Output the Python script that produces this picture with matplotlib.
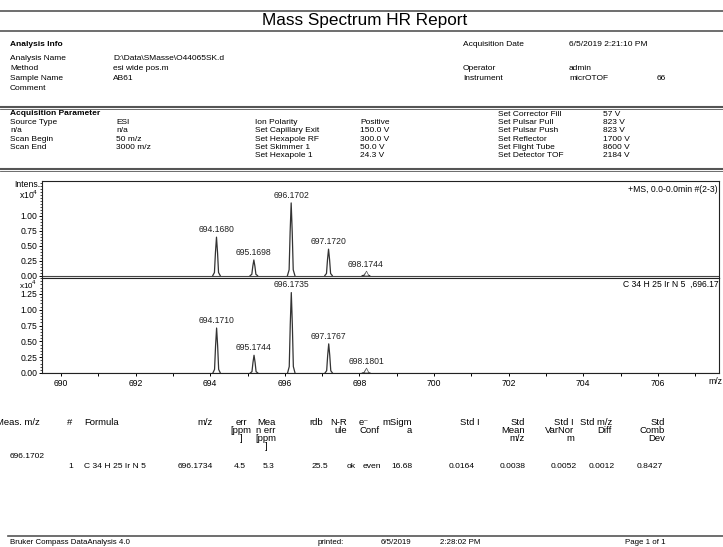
import matplotlib.pyplot as plt
from matplotlib.lines import Line2D

# measured / simulated isotope peaks (intensity in x10^4)
meas_mz = [694.1680, 695.1698, 696.1702, 697.1720, 698.1744]
meas_int = [0.64, 0.26, 1.21, 0.44, 0.04]
calc_mz = [694.1710, 695.1744, 696.1735, 697.1767, 698.1801]
calc_int = [0.71, 0.28, 1.27, 0.46, 0.05]

xticks_major = [690, 692, 694, 696, 698, 700, 702, 704, 706]
yticks_top = [0.00, 0.25, 0.50, 0.75, 1.00]
yticks_bot = [0.00, 0.25, 0.50, 0.75, 1.00, 1.25]

info_left = [("Analysis Name", "D:\\Data\\SMasse\\O44065SK.d"),
             ("Method", "esi wide pos.m"),
             ("Sample Name", "AB61"),
             ("Comment", "")]
info_right = [("Acquisition Date", "6/5/2019 2:21:10 PM"),
              ("", ""),
              ("Operator", "admin"),
              ("Instrument", "micrOTOF")]

acq_col1 = [("Source Type", "ESI"), ("n/a", "n/a"),
            ("Scan Begin", "50 m/z"), ("Scan End", "3000 m/z")]
acq_col2 = [("Ion Polarity", "Positive"), ("Set Capillary Exit", "150.0 V"),
            ("Set Hexapole RF", "300.0 V"), ("Set Skimmer 1", "50.0 V"),
            ("Set Hexapole 1", "24.3 V")]
acq_col3 = [("Set Corrector Fill", "57 V"), ("Set Pulsar Pull", "823 V"),
            ("Set Pulsar Push", "823 V"), ("Set Reflector", "1700 V"),
            ("Set Flight Tube", "8600 V"), ("Set Detector TOF", "2184 V")]

tbl_head = ["#", "Formula", "m/z", "err\n[ppm\n]", "Mea\nn err\n[ppm\n]", "rdb",
            "N-R\nule", "e\u207b\nConf", "mSigm\na", "Std I", "Std\nMean\nm/z",
            "Std I\nVarNor\nm", "Std m/z\nDiff", "Std\nComb\nDev"]
tbl_row = ["1", "C 34 H 25 Ir N 5", "696.1734", "4.5", "5.3", "25.5", "ok", "even",
           "16.68", "0.0164", "0.0038", "0.0052", "0.0012", "0.8427"]

plt.rcParams['font.family'] = ['Liberation Sans Narrow', 'Liberation Sans', 'DejaVu Sans']
fs = 6.0     # header blocks
fsp = 6.2    # spectrum labels

fig = plt.figure(figsize=(7.23, 5.47), dpi=100)
bg = fig.add_axes([0, 0, 1, 1])
bg.set_xlim(0, 723)
bg.set_ylim(547, 0)
bg.axis('off')


def rule(y, lw=1.0, x0=0, x1=723):
    bg.add_line(Line2D([x0, x1], [y, y], color='#555555', lw=lw))


# header
rule(11, 1.2)
bg.text(365, 21, "Mass Spectrum HR Report", fontsize=12.3, ha='center', va='center')
rule(31, 1.2)
bg.text(10, 45, "Analysis Info", fontsize=fs, fontweight='bold', va='center')
for i, (k, v) in enumerate(info_left):
    bg.text(10, 58 + i * 10, k, fontsize=fs, va='center')
    bg.text(113, 58 + i * 10, v, fontsize=fs, va='center')
right_y = [45, 57, 68, 78]
for y, (k, v) in zip(right_y, info_right):
    bg.text(463, y, k, fontsize=fs, va='center')
    bg.text(569, y, v, fontsize=fs, va='center')
bg.text(657, 78, "66", fontsize=fs, va='center')
rule(106.5, 1.5)
rule(108.5, 0.6)

bg.text(10, 113.5, "Acquisition Parameter", fontsize=fs, fontweight='bold', va='center')
for i, (k, v) in enumerate(acq_col1):
    bg.text(10, 122.5 + i * 8.3, k, fontsize=fs, va='center')
    bg.text(116, 122.5 + i * 8.3, v, fontsize=fs, va='center')
for i, (k, v) in enumerate(acq_col2):
    bg.text(255, 122.5 + i * 8.3, k, fontsize=fs, va='center')
    bg.text(360, 122.5 + i * 8.3, v, fontsize=fs, va='center')
for i, (k, v) in enumerate(acq_col3):
    bg.text(498, 114.2 + i * 8.3, k, fontsize=fs, va='center')
    bg.text(603, 114.2 + i * 8.3, v, fontsize=fs, va='center')
rule(168.5, 1.5)
rule(170.5, 0.6)

# spectra
W, H = 723, 547
left, right = 42, 719
ax1 = fig.add_axes([left / W, (H - 278) / H, (right - left) / W, (278 - 181) / H])
ax2 = fig.add_axes([left / W, (H - 373) / H, (right - left) / W, (373 - 278) / H])

peak_dx = [-0.1, -0.055, -0.028, 0, 0.028, 0.055, 0.1]
peak_sh = [0, 0.08, 0.6, 1, 0.6, 0.08, 0]


def spectrum(ax, mz, inten, yticks, ylo, yhi):
    ax.set_xlim(689.49, 707.64)
    ax.set_ylim(ylo, yhi)
    ax.axhline(0, color='#444444', lw=0.8)
    for m, h in zip(mz, inten):
        ax.plot([m + d for d in peak_dx], [h * s for s in peak_sh], color='#333333', lw=0.9)
        if h > 0.1:
            ax.text(m, h + 0.05, "%.4f" % m, fontsize=fsp, ha='center', va='bottom', color='#222222')
        else:
            ax.plot(m, 0.04, marker='^', ms=3.5, mfc='white', mec='#555555', mew=0.5, clip_on=False)
            ax.text(m, 0.11, "%.4f" % m, fontsize=fsp, ha='center', va='bottom', color='#222222')
    ax.set_yticks(yticks)
    ax.set_yticklabels(["%.2f" % t for t in yticks], fontsize=fsp)
    ax.set_yticks([t / 20 for t in range(int(yhi * 20) + 1)], minor=True)
    ax.tick_params(axis='y', which='major', length=2.5, width=0.7, pad=1)
    ax.tick_params(axis='y', which='minor', length=1.2, width=0.5)
    for sp in ax.spines.values():
        sp.set_linewidth(0.8)
        sp.set_color('#222222')


spectrum(ax1, meas_mz, meas_int, yticks_top, -0.04, 1.575)
spectrum(ax2, calc_mz, calc_int, yticks_bot, 0.0, 1.5)
ax1.set_xticks([])
ax2.set_xticks(xticks_major)
ax2.set_xticklabels([str(t) for t in xticks_major], fontsize=fsp)
ax2.set_xticks(range(691, 708, 2), minor=True)
ax2.tick_params(axis='x', which='both', length=2.5, width=0.7, pad=1.5)
ax1.text(0.998, 0.96, "+MS, 0.0-0.0min #(2-3)", transform=ax1.transAxes, fontsize=fsp,
         ha='right', va='top')
ax2.text(1.0, 0.98, "C 34 H 25 Ir N 5  ,696.17", transform=ax2.transAxes, fontsize=fsp,
         ha='right', va='top', clip_on=True)

bg.text(40, 184.5, "Intens.", fontsize=fsp, ha='right', va='center')
bg.text(38, 195, "x10$^4$", fontsize=fsp, ha='right', va='center')
bg.text(37, 285, "x10$^4$", fontsize=5.8, ha='right', va='center')
bg.text(715, 381, "m/z", fontsize=fsp, ha='center', va='center')

# results table
fh = 6.8
head_x = [67, 84, 213, 241, 266, 323, 347, 359, 412, 480, 525, 574, 612, 665]
head_ha = ['left', 'left', 'right', 'center', 'center', 'right', 'right', 'left',
           'right', 'right', 'right', 'right', 'right', 'right']
bg.text(-4, 418, "Meas. m/z", fontsize=fh, va='top')
for x, t, ha in zip(head_x, tbl_head, head_ha):
    bg.text(x, 418, t, fontsize=fh, va='top', ha=ha, multialignment=ha, linespacing=0.88)
bg.text(10, 457, "696.1702", fontsize=fs, va='center')
row_x = [73, 84, 213, 246, 274, 328, 356, 363, 412, 475, 526, 577, 615, 663]
row_ha = ['right', 'left', 'right', 'right', 'right', 'right', 'right', 'left',
          'right', 'right', 'right', 'right', 'right', 'right']
for x, t, ha in zip(row_x, tbl_row, row_ha):
    bg.text(x, 466, t, fontsize=6.1, va='center', ha=ha)

# footer
rule(535.5, 1.2, 8, 723)
foot_y = 543
bg.text(10, foot_y, "Bruker Compass DataAnalysis 4.0", fontsize=5.7, va='center')
bg.text(318, foot_y, "printed:", fontsize=5.7, va='center')
bg.text(381, foot_y, "6/5/2019", fontsize=5.7, va='center')
bg.text(440, foot_y, "2:28:02 PM", fontsize=5.7, va='center')
bg.text(625, foot_y, "Page 1 of 1", fontsize=5.7, va='center')

fig.savefig("out.png", dpi=100)
